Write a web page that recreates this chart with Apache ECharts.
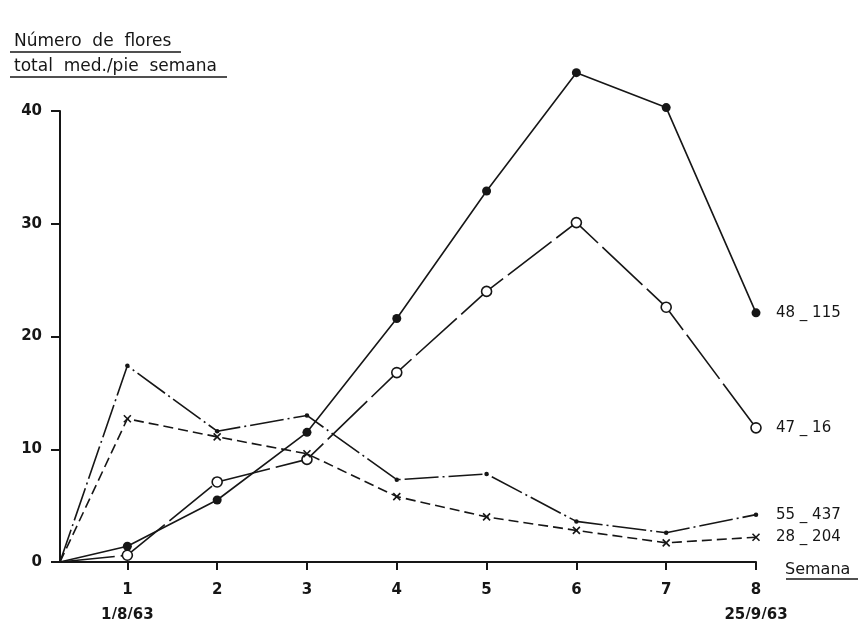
<!DOCTYPE html>
<html>
<head>
<meta charset="utf-8">
<script src="https://cdn.jsdelivr.net/npm/echarts@6/dist/echarts.min.js"></script>
<style>
  html, body { margin: 0; padding: 0; background: #ffffff; }
  #chart { width: 860px; height: 619px; }
</style>
</head>
<body>
<div id="chart"></div>
<script>
// Weekly flower counts (mean total flowers per plant per week), four plants
const startWeek = 0.25;               // lines begin at the axis origin
const weeks = [1, 2, 3, 4, 5, 6, 7, 8];
const yTicks = [0, 10, 20, 30, 40];
const weekDates = { 1: '1/8/63', 8: '25/9/63' };

const flores48_115 = [1.4, 5.5, 11.5, 21.6, 32.9, 43.4, 40.3, 22.1];
const flores47_16  = [0.6, 7.1, 9.1, 16.8, 24.0, 30.1, 22.6, 11.9];
const flores55_437 = [17.4, 11.6, 13.0, 7.3, 7.8, 3.6, 2.6, 4.2];
const flores28_204 = [12.7, 11.1, 9.6, 5.8, 4.0, 2.8, 1.7, 2.2];

const plantNames = ['48 _ 115', '47 _ 16', '55 _ 437', '28 _ 204'];

const ink = '#161616';
const font = 'DejaVu Sans';

function toPoints(values) {
  const pts = [{ value: [startWeek, 0], symbol: 'none' }];
  weeks.forEach((w, i) => pts.push([w, values[i]]));
  return pts;
}

function makeSeries(name, values, lineType, symbol, symbolSize, itemStyle) {
  return {
    name: name,
    type: 'line',
    data: toPoints(values),
    clip: false,
    symbol: symbol,
    symbolSize: symbolSize,
    showAllSymbol: true,
    lineStyle: { color: ink, width: 1.6, type: lineType },
    itemStyle: itemStyle,
    endLabel: {
      show: true,
      formatter: name,
      distance: 20,
      color: ink,
      fontFamily: font,
      fontSize: 15
    },
    emphasis: { disabled: true },
    animation: false
  };
}

const chart = echarts.init(document.getElementById('chart'), null, { renderer: 'canvas' });

chart.setOption({
  backgroundColor: '#ffffff',
  title: {
    text: 'Número  de  flores\ntotal  med./pie  semana',
    left: 9,
    top: 24,
    textStyle: {
      fontFamily: font,
      fontWeight: 'normal',
      fontSize: 17,
      lineHeight: 25,
      color: ink
    }
  },
  grid: {
    left: 60, right: 104, top: 111, bottom: 57,
    containLabel: false,
    outerBoundsMode: 'none'
  },
  xAxis: {
    type: 'value',
    min: startWeek,
    max: 8,
    name: 'Semana',
    nameLocation: 'end',
    nameGap: 29,
    nameTextStyle: {
      fontFamily: font,
      fontSize: 16,
      color: ink,
      verticalAlign: 'top',
      lineHeight: 16
    },
    axisLine: { show: true, lineStyle: { color: ink, width: 2 } },
    axisTick: { show: true, length: 8, customValues: weeks, lineStyle: { color: ink, width: 2 } },
    axisLabel: {
      customValues: weeks,
      margin: 16,
      lineHeight: 25,
      fontFamily: font,
      fontWeight: 'bold',
      fontSize: 15,
      color: ink,
      formatter: v => (weekDates[v] ? v + '\n' + weekDates[v] : String(v))
    },
    splitLine: { show: false }
  },
  yAxis: {
    type: 'value',
    min: 0,
    max: 40,
    interval: 10,
    axisLine: { show: true, lineStyle: { color: ink, width: 2 } },
    axisTick: { show: true, length: 9, customValues: yTicks, lineStyle: { color: ink, width: 2 } },
    axisLabel: {
      customValues: yTicks,
      margin: 18,
      fontFamily: font,
      fontWeight: 'bold',
      fontSize: 15,
      color: ink
    },
    splitLine: { show: false }
  },
  series: [
    makeSeries(plantNames[0], flores48_115, 'solid', 'circle', 9,
      { color: ink, borderColor: ink, borderWidth: 0 }),
    makeSeries(plantNames[1], flores47_16, [55, 6], 'circle', 10,
      { color: '#ffffff', borderColor: ink, borderWidth: 1.6 }),
    makeSeries(plantNames[2], flores55_437, [34, 4, 2, 4], 'circle', 4.5,
      { color: ink, borderColor: ink, borderWidth: 0 }),
    makeSeries(plantNames[3], flores28_204, [10, 5], 'path://M0,0L10,10M10,0L0,10', 7,
      { color: ink, borderColor: ink, borderWidth: 1.6 })
  ],
  graphic: [
    { type: 'line', shape: { x1: 10, y1: 52, x2: 181, y2: 52 }, style: { stroke: ink, lineWidth: 1.5 } },
    { type: 'line', shape: { x1: 10, y1: 77, x2: 227, y2: 77 }, style: { stroke: ink, lineWidth: 1.5 } },
    { type: 'line', shape: { x1: 786, y1: 579, x2: 858, y2: 579 }, style: { stroke: ink, lineWidth: 1.5 } }
  ]
});
</script>
</body>
</html>
